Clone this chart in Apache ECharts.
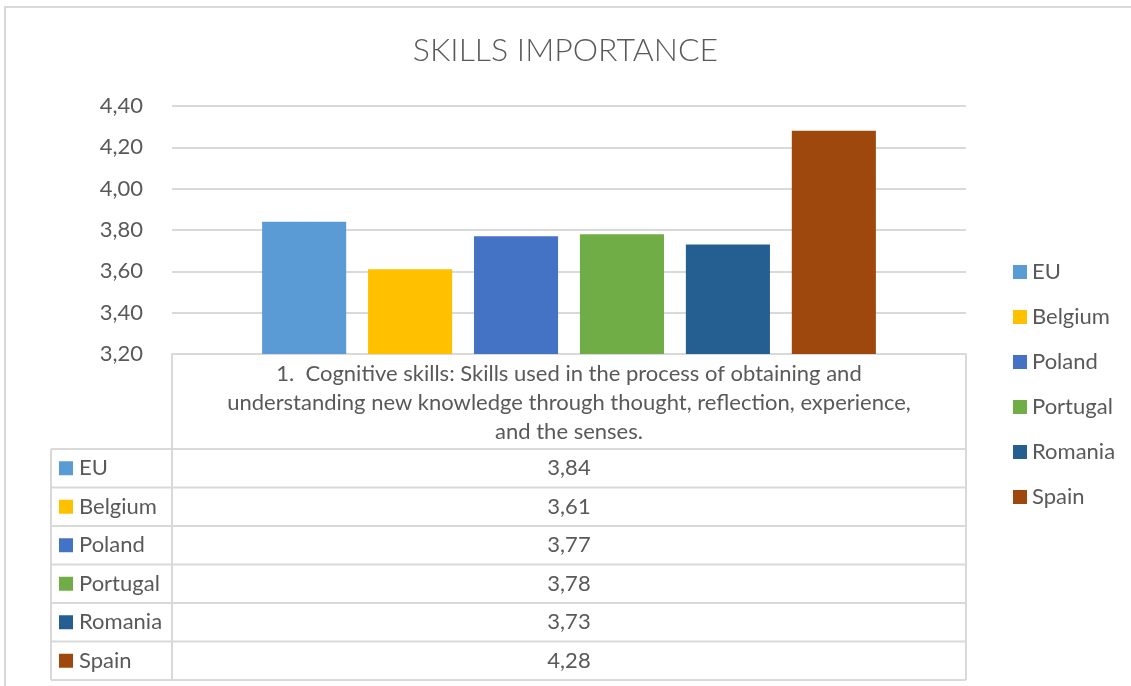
<!DOCTYPE html>
<html><head><meta charset="utf-8">
<script src="https://cdn.jsdelivr.net/npm/echarts@6/dist/echarts.min.js"></script>
<style>html,body{margin:0;padding:0;background:#fff}#c{width:1131px;height:686px}</style>
</head><body><div id="c"></div>
<script>
// ---- data ----
const chartTitle = 'SKILLS IMPORTANCE';
const categories = ['1.  Cognitive skills: Skills used in the process of obtaining and\nunderstanding new knowledge through thought, reflection, experience,\nand the senses.'];
const seriesNames = ['EU', 'Belgium', 'Poland', 'Portugal', 'Romania', 'Spain'];
const seriesValues = [3.84, 3.61, 3.77, 3.78, 3.73, 4.28];
const seriesColors = ['#5B9BD5', '#FFC000', '#4472C4', '#70AD47', '#255E91', '#9E480E'];
const yMin = 3.2, yMax = 4.4, yStep = 0.2;

// ---- styling / layout ----
const FONT = 'Lato';
const TXT = '#595959';
const LINE = '#d9d9d9';
const gridL = 172, gridR = 966, gridT = 106, gridB = 354;
const tableL = 51, headerBottom = 449, rowH = 38.5;
const fmt = v => v.toFixed(2).replace('.', ',');

const chart = echarts.init(document.getElementById('c'), null, {renderer: 'canvas'});

const series = seriesNames.map((n, i) => ({
  name: n, type: 'bar', data: [seriesValues[i]],
  itemStyle: {color: seriesColors[i]},
  barGap: '26%', barCategoryGap: '22.7%'
}));

const graphics = [];
// outer chart border
graphics.push({type: 'polyline', silent: true, shape: {points: [[5, 686], [5, 7], [1131, 7]]}, style: {stroke: LINE, lineWidth: 2, fill: null}});
// table horizontal lines
for (let i = 0; i <= seriesNames.length; i++) {
  const y = headerBottom + i * rowH;
  graphics.push({type: 'line', silent: true, shape: {x1: tableL, y1: y, x2: gridR, y2: y}, style: {stroke: LINE, lineWidth: 2}});
}
const tableBottom = headerBottom + seriesNames.length * rowH;
graphics.push({type: 'line', silent: true, shape: {x1: tableL, y1: headerBottom, x2: tableL, y2: tableBottom}, style: {stroke: LINE, lineWidth: 2}});
graphics.push({type: 'line', silent: true, shape: {x1: gridL, y1: gridB, x2: gridL, y2: tableBottom}, style: {stroke: LINE, lineWidth: 2}});
graphics.push({type: 'line', silent: true, shape: {x1: gridR, y1: gridB, x2: gridR, y2: tableBottom}, style: {stroke: LINE, lineWidth: 2}});
// table rows
seriesNames.forEach((n, i) => {
  const cy = headerBottom + i * rowH + rowH / 2;
  graphics.push({type: 'rect', silent: true, shape: {x: 59, y: cy - 7, width: 14, height: 14}, style: {fill: seriesColors[i]}});
  graphics.push({type: 'text', silent: true, x: 79, y: cy, style: {text: n, fill: TXT, font: '22px ' + FONT, textVerticalAlign: 'middle', verticalAlign: 'middle'}});
  graphics.push({type: 'text', silent: true, x: (gridL + gridR) / 2, y: cy, style: {text: fmt(seriesValues[i]), fill: TXT, font: '22px ' + FONT, align: 'center', textAlign: 'center', verticalAlign: 'middle', textVerticalAlign: 'middle'}});
});

chart.setOption({
  animation: false,
  backgroundColor: '#fff',
  textStyle: {fontFamily: FONT},
  title: {
    text: chartTitle, left: 'center', top: 30,
    textStyle: {fontFamily: FONT, fontSize: 32, fontWeight: 300, color: TXT}
  },
  legend: {
    orient: 'vertical', left: 1008, top: 256,
    icon: 'rect', itemWidth: 14, itemHeight: 14, itemGap: 23,
    textStyle: {fontFamily: FONT, fontSize: 22, color: TXT},
    data: seriesNames
  },
  grid: {left: gridL, right: 1131 - gridR, top: gridT, bottom: 686 - gridB, containLabel: false},
  xAxis: {
    type: 'category', data: categories,
    axisLine: {show: true, lineStyle: {color: LINE, width: 2}},
    axisTick: {show: false},
    axisLabel: {fontFamily: FONT, fontSize: 22, lineHeight: 29, color: TXT, margin: 5, align: 'center'}
  },
  yAxis: {
    type: 'value', min: yMin, max: yMax, interval: yStep,
    axisLine: {show: false}, axisTick: {show: false},
    axisLabel: {fontFamily: FONT, fontSize: 22, color: TXT, margin: 29, formatter: v => fmt(v)},
    splitLine: {lineStyle: {color: LINE, width: 2}}
  },
  series: series,
  graphic: graphics
});
</script></body></html>
